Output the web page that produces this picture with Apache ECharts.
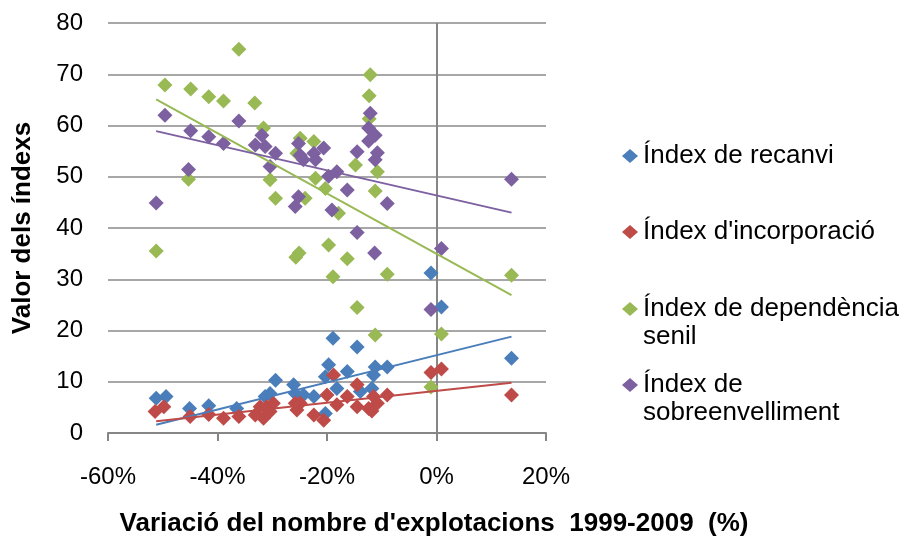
<!DOCTYPE html>
<html>
<head>
<meta charset="utf-8">
<title>Valor dels índexs</title>
<script src="https://cdn.jsdelivr.net/npm/echarts@6/dist/echarts.min.js"></script>
<style>
  html, body { margin: 0; padding: 0; background: #fff; }
  #main { width: 906px; height: 537px; }
</style>
</head>
<body>
<div id="main"></div>
<script>
// eix X (%) i eix Y
const xTicks = [-60, -40, -20, 0, 20];
const yTicks = [0, 10, 20, 30, 40, 50, 60, 70, 80];

const seriesNames = ["Índex de recanvi", "Índex d'incorporació", "Índex de dependència senil", "Índex de sobreenvelliment"];
const legendLabels = ["Índex de recanvi", "Índex d'incorporació", "Índex de dependència\nsenil", "Índex de\nsobreenvelliment"];

// [variació %, valor]
const recanvi = [
  [-51.2, 6.8], [-49.4, 7.1], [-45.1, 4.8], [-41.6, 5.3], [-36.5, 4.8], [-31.3, 7.1], [-30.4, 7.7],
  [-29.4, 10.3], [-26.1, 9.4], [-25.8, 7.7], [-24.3, 7.4], [-22.4, 7.1], [-20.3, 3.8], [-20.3, 11.0],
  [-19.7, 13.3], [-18.9, 18.5], [-18.2, 8.7], [-16.3, 12.0], [-14.5, 16.8], [-13.9, 8.1], [-11.8, 8.7],
  [-11.5, 11.3], [-11.2, 12.9], [-9.0, 12.9], [-1.0, 31.2], [0.9, 24.6], [13.7, 14.6]
];
const incorporacio = [
  [-51.4, 4.2], [-49.8, 5.1], [-45.0, 3.2], [-41.6, 3.6], [-38.9, 2.9], [-36.1, 3.2], [-33.1, 3.5],
  [-32.2, 5.1], [-31.6, 2.9], [-31.0, 5.1], [-30.4, 4.2], [-29.8, 5.8], [-25.8, 5.8], [-25.5, 4.5],
  [-24.9, 5.8], [-22.4, 3.5], [-20.6, 2.5], [-20.0, 7.4], [-18.8, 11.3], [-18.2, 5.5], [-16.3, 7.1],
  [-14.5, 9.4], [-14.5, 5.1], [-12.4, 4.8], [-11.8, 4.3], [-11.5, 7.1], [-10.8, 5.8], [-9.0, 7.4],
  [-1.0, 11.8], [0.9, 12.5], [13.7, 7.4]
];
const dependencia = [
  [-51.2, 35.5], [-49.6, 67.9], [-45.3, 49.5], [-44.9, 67.1], [-41.6, 65.6], [-38.9, 64.8], [-36.1, 74.9],
  [-33.2, 64.4], [-31.6, 59.5], [-30.4, 49.4], [-29.4, 45.8], [-25.7, 34.3], [-25.1, 35.1], [-25.5, 54.6],
  [-24.9, 57.5], [-24.0, 45.8], [-22.4, 56.9], [-22.1, 49.7], [-20.3, 47.7], [-19.7, 36.7], [-18.9, 30.5],
  [-17.9, 42.9], [-16.3, 34.0], [-14.8, 52.3], [-14.5, 24.5], [-12.3, 65.8], [-12.1, 69.9], [-12.3, 61.3],
  [-11.2, 47.2], [-11.2, 19.1], [-10.8, 51.0], [-9.0, 31.0], [-1.0, 9.0], [0.9, 19.3], [13.7, 30.8]
];
const sobreenvelliment = [
  [-51.2, 44.9], [-49.6, 62.0], [-45.3, 51.4], [-44.9, 59.0], [-41.6, 57.8], [-38.9, 56.5], [-36.1, 60.9],
  [-33.1, 56.2], [-31.9, 58.1], [-31.3, 55.9], [-30.4, 52.0], [-29.4, 54.6], [-25.8, 44.2], [-25.2, 46.1],
  [-25.2, 56.5], [-24.9, 54.2], [-24.3, 53.3], [-22.4, 54.6], [-22.1, 53.3], [-20.6, 55.6], [-19.7, 50.1],
  [-19.1, 43.5], [-18.2, 51.0], [-16.3, 47.4], [-14.5, 54.9], [-14.5, 39.1], [-12.4, 59.5], [-12.1, 62.4],
  [-12.4, 57.0], [-11.3, 35.1], [-11.2, 58.1], [-11.2, 53.3], [-10.8, 54.7], [-9.0, 44.8], [-1.0, 24.1],
  [0.9, 36.0], [13.7, 49.5]
];

// línies de tendència (extrems llegits del gràfic)
const tendRecanvi = [[-51.2, 1.6], [13.7, 18.8]];
const tendIncorporacio = [[-51.2, 2.3], [13.7, 9.8]];
const tendDependencia = [[-51.2, 65.1], [13.7, 26.9]];
const tendSobreenvelliment = [[-51.2, 58.9], [13.7, 43.0]];

const colors = ['#4a7ebb', '#be4b48', '#98b954', '#7d60a0'];
const font = 'Liberation Sans, Arial, sans-serif';

var chartDom = document.getElementById('main');
var myChart = echarts.init(chartDom);
var option;

const scatterData = [recanvi, incorporacio, dependencia, sobreenvelliment];
const trendData = [tendRecanvi, tendIncorporacio, tendDependencia, tendSobreenvelliment];
const legendTops = [156, 232, 309, 385]; // centre de la icona

// una llegenda per element, perquè la icona quedi a la primera línia
const legends = seriesNames.map(function (name, i) {
  const multi = legendLabels[i].indexOf('\n') >= 0;
  return {
    orient: 'vertical',
    left: 622,
    top: legendTops[i] - (multi ? 42 : 14),
    padding: 0,
    itemWidth: 16,
    itemHeight: 14,
    selectedMode: false,
    data: [{ name: name, icon: 'diamond' }],
    formatter: function () { return multi ? '\n' + legendLabels[i] : legendLabels[i]; },
    textStyle: {
      fontFamily: font,
      fontSize: 26,
      color: '#000',
      lineHeight: 28
    }
  };
});

const series = [];
seriesNames.forEach(function (name, i) {
  const s = {
    name: name,
    type: 'scatter',
    symbol: 'diamond',
    symbolSize: 15,
    itemStyle: { color: colors[i], opacity: 1 },
    data: scatterData[i],
    z: 2
  };
  if (i === 0) {
    s.markLine = {
      silent: true,
      symbol: ['none', 'none'],
      label: { show: false },
      lineStyle: { color: '#868686', width: 2, type: 'solid' },
      data: [{ xAxis: 0 }],
      z: 1
    };
  }
  series.push(s);
});
trendData.forEach(function (d, i) {
  series.push({
    name: 'tend' + i,
    type: 'line',
    data: d,
    showSymbol: false,
    silent: true,
    lineStyle: { color: colors[i], width: 2 },
    z: 3
  });
});

option = {
  animation: false,
  textStyle: { fontFamily: font },
  grid: { left: 108, right: 360, top: 23, bottom: 104, outerBoundsMode: 'none' },
  legend: legends,
  xAxis: {
    type: 'value',
    min: xTicks[0],
    max: xTicks[xTicks.length - 1],
    interval: xTicks[1] - xTicks[0],
    name: "Variació del nombre d'explotacions  1999-2009  (%)",
    nameLocation: 'middle',
    nameGap: 78,
    nameTextStyle: { fontFamily: font, fontSize: 26, fontWeight: 'bold', color: '#000', padding: [0, 0, 0, 214] },
    axisLine: { onZero: false, lineStyle: { color: '#868686', width: 2 } },
    axisTick: { show: true, length: 8, lineStyle: { color: '#868686', width: 2 } },
    axisLabel: { fontSize: 24, color: '#000', margin: 32, formatter: '{value}%' },
    splitLine: { show: false }
  },
  yAxis: {
    type: 'value',
    min: yTicks[0],
    max: yTicks[yTicks.length - 1],
    interval: yTicks[1] - yTicks[0],
    name: 'Valor dels índexs',
    nameLocation: 'middle',
    nameGap: 72,
    nameTextStyle: { fontFamily: font, fontSize: 26, fontWeight: 'bold', color: '#000' },
    axisLine: { show: false },
    axisTick: { show: false },
    axisLabel: { fontSize: 24, color: '#000', margin: 25 },
    splitLine: { show: true, lineStyle: { color: '#8a8a8a', width: 1.5 } }
  },
  series: series
};

option && myChart.setOption(option);
</script>
</body>
</html>
